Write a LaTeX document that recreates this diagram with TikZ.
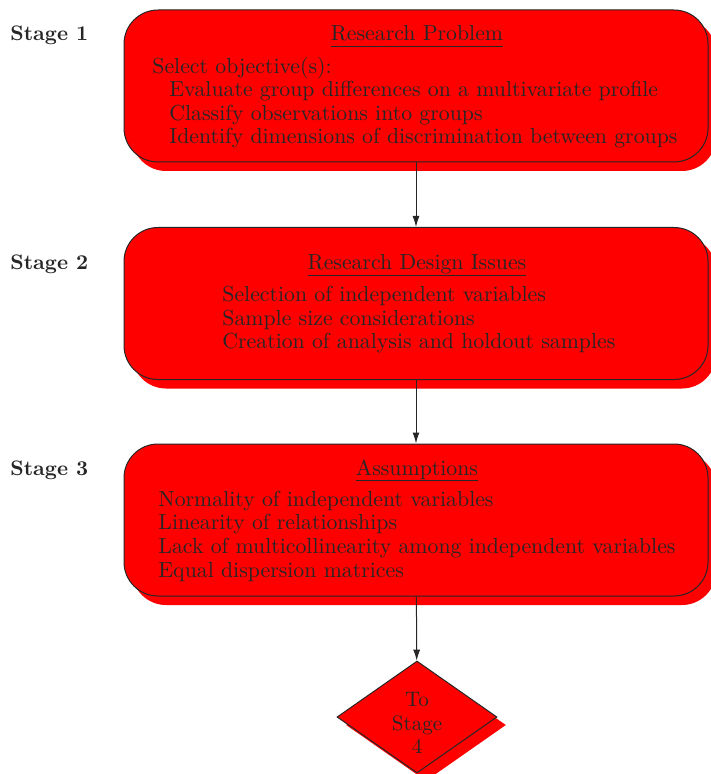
\documentclass[tikz,border=0pt]{standalone}
\usetikzlibrary{shapes.geometric, arrows.meta, shadows}
\newcommand{\ulhead}[1]{\setbox0\hbox{#1}\rlap{\vrule height -2.6pt depth 3.1pt width \wd0}\box0}

\begin{document}
\begin{tikzpicture}[x=0.5pt, y=-0.5pt,
    stage/.style={anchor=base west, inner sep=0pt, font=\fontsize{10.5}{11.75}\selectfont\bfseries, text=black!85},
    block/.style={rectangle, draw=black!85, line width=0.5pt, fill=red, rounded corners=17pt, minimum width=292pt, minimum height=76pt, drop shadow={shadow xshift=4pt, shadow yshift=-4.5pt, fill=red, opacity=1}},
    heading/.style={anchor=base, inner sep=0pt, font=\fontsize{10.9}{11.8}\selectfont, text=black!85},
    body/.style={anchor=base west, inner sep=0pt, align=left, font=\fontsize{10.9}{11.8}\selectfont, text=black!85},
    decision/.style={diamond, draw=black!85, line width=0.5pt, fill=red, minimum width=80pt, minimum height=56pt, inner sep=0pt, aspect=1.43, drop shadow={shadow xshift=4.5pt, shadow yshift=-4pt, fill=red, opacity=1}},
    arrow/.style={draw=black!85, line width=0.5pt, -{Latex[length=5.5pt, width=3.5pt]}}
]
    \useasboundingbox (0,0) rectangle (710,774);

    % stages
    \node (s1) [stage] at (10,41) {Stage 1};
    \node (s2) [stage] at (10,270) {Stage 2};
    \node (s3) [stage] at (10,475) {Stage 3};

    % boxes
    \node (problem) [block] at (416,86) {};
    \node (design) [block] at (416,303.5) {};
    \node (assume) [block] at (416,520) {};
    \node (stage4) [decision] at (417,717) {};

    % texts (a multi-line node sits on its last baseline)
    \node (problemtitle) [heading] at (417,41) {\ulhead{Research Problem}};
    \node (problembody) [body] at (152,144) {Select objective(s):\\
        \hspace*{8.5pt}Evaluate group differences on a multivariate profile\\
        \hspace*{8.5pt}Classify observations into groups\\
        \hspace*{8.5pt}Identify dimensions of discrimination between groups};

    \node (designtitle) [heading] at (417,270) {\ulhead{Research Design Issues}};
    \node (designbody) [body] at (222,349) {Selection of independent variables\\
        Sample size considerations\\
        Creation of analysis and holdout samples};

    \node (assumetitle) [heading] at (417,475) {\ulhead{Assumptions}};
    \node (assumebody) [body] at (158,577) {Normality of independent variables\\
        Linearity of relationships\\
        Lack of multicollinearity among independent variables\\
        Equal dispersion matrices};

    \node (stage4text) [heading, anchor=center, align=center, font=\fontsize{10.5}{11.75}\selectfont] at (417,723) {To\\Stage\\4};

    % connectors
    \draw [arrow] (problem) -- (design);
    \draw [arrow] (design) -- (assume);
    \draw [arrow] (assume) -- (stage4);
\end{tikzpicture}
\end{document}
